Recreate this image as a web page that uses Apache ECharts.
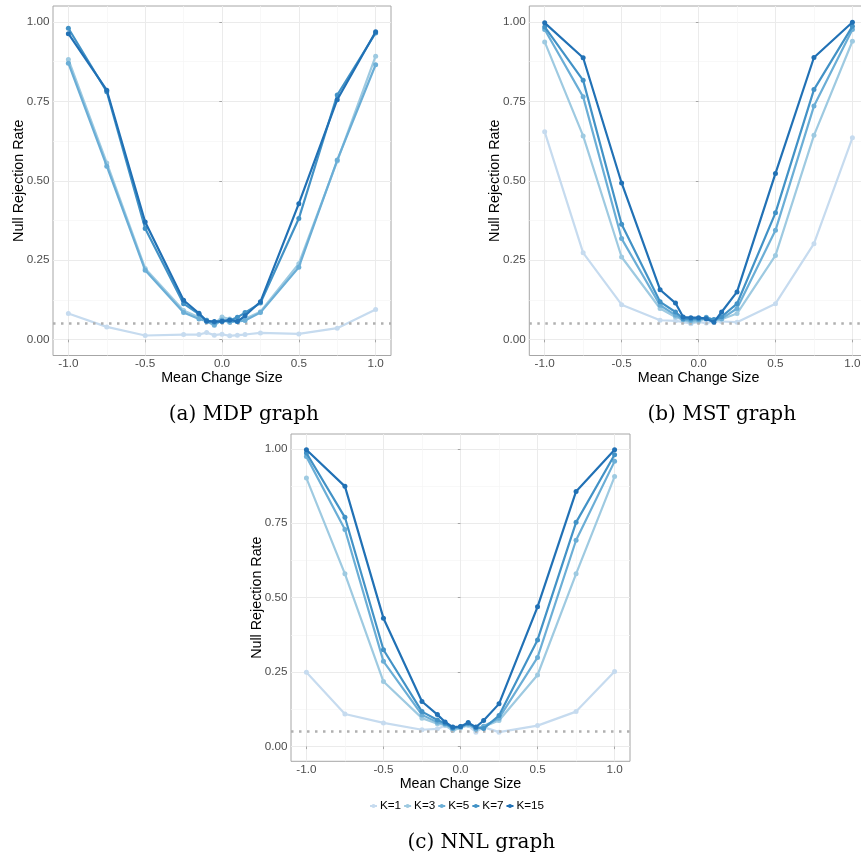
<!DOCTYPE html>
<html>
<head>
<meta charset="utf-8">
<title>Null rejection rate vs mean change size</title>
<script src="https://cdn.jsdelivr.net/npm/echarts@6/dist/echarts.min.js"></script>
<style>
  html, body { margin: 0; padding: 0; background: #ffffff; }
  #chart { width: 861px; height: 859px; }
</style>
</head>
<body>
<div id="chart"></div>
<script>
// Mean change sizes on the horizontal axis
const changeSize = [-1, -0.75, -0.5, -0.25, -0.15, -0.1, -0.05, 0, 0.05, 0.1, 0.15, 0.25, 0.5, 0.75, 1];

// Number of neighbours K for each curve
const kLabels = ['K=1', 'K=3', 'K=5', 'K=7', 'K=15'];

// Tick values
const xTicks = [-1, -0.5, 0, 0.5, 1];
const xMinorTicks = [-0.75, -0.25, 0.25, 0.75];
const yTicks = [0, 0.25, 0.5, 0.75, 1];
const yMinorTicks = [0.125, 0.375, 0.625, 0.875];

// Nominal significance level
const alphaLevel = 0.05;

// MDP graph: null rejection rates
const mdpK1  = [0.082, 0.040, 0.013, 0.016, 0.016, 0.022, 0.014, 0.017, 0.012, 0.014, 0.016, 0.021, 0.018, 0.036, 0.095];
const mdpK3  = [0.882, 0.556, 0.224, 0.092, 0.070, 0.062, 0.050, 0.071, 0.065, 0.060, 0.066, 0.088, 0.239, 0.562, 0.892];
const mdpK5  = [0.870, 0.546, 0.218, 0.085, 0.065, 0.058, 0.045, 0.062, 0.055, 0.057, 0.060, 0.085, 0.228, 0.565, 0.865];
const mdpK7  = [0.980, 0.780, 0.350, 0.113, 0.080, 0.060, 0.055, 0.057, 0.060, 0.070, 0.085, 0.115, 0.381, 0.770, 0.965];
const mdpK15 = [0.963, 0.785, 0.370, 0.124, 0.083, 0.058, 0.057, 0.058, 0.062, 0.057, 0.075, 0.119, 0.428, 0.755, 0.969];

// MST graph: null rejection rates
const mstK1  = [0.654, 0.273, 0.110, 0.061, 0.059, 0.056, 0.050, 0.056, 0.052, 0.058, 0.057, 0.055, 0.113, 0.302, 0.635];
const mstK3  = [0.937, 0.641, 0.260, 0.098, 0.071, 0.062, 0.054, 0.058, 0.066, 0.060, 0.064, 0.082, 0.265, 0.643, 0.939];
const mstK5  = [0.976, 0.764, 0.318, 0.108, 0.077, 0.063, 0.060, 0.062, 0.070, 0.062, 0.066, 0.098, 0.344, 0.735, 0.976];
const mstK7  = [0.984, 0.816, 0.363, 0.119, 0.087, 0.066, 0.065, 0.066, 0.068, 0.063, 0.072, 0.113, 0.399, 0.787, 0.986];
const mstK15 = [0.997, 0.887, 0.493, 0.157, 0.115, 0.071, 0.069, 0.069, 0.066, 0.055, 0.087, 0.150, 0.523, 0.888, 0.999];

// NNL graph: null rejection rates
const nnlK1  = [0.249, 0.109, 0.079, 0.056, 0.059, 0.070, 0.054, 0.065, 0.070, 0.048, 0.065, 0.048, 0.070, 0.117, 0.252];
const nnlK3  = [0.902, 0.580, 0.218, 0.095, 0.076, 0.072, 0.054, 0.062, 0.072, 0.062, 0.066, 0.087, 0.240, 0.580, 0.907];
const nnlK5  = [0.974, 0.729, 0.286, 0.106, 0.081, 0.075, 0.060, 0.065, 0.075, 0.058, 0.068, 0.095, 0.299, 0.693, 0.958];
const nnlK7  = [0.986, 0.770, 0.325, 0.117, 0.089, 0.078, 0.062, 0.066, 0.078, 0.064, 0.060, 0.104, 0.358, 0.753, 0.980];
const nnlK15 = [0.997, 0.874, 0.431, 0.151, 0.107, 0.082, 0.065, 0.067, 0.080, 0.065, 0.087, 0.143, 0.469, 0.857, 0.997];

// Sequential blues, light to dark with increasing K
const kColors = ['#c6dbef', '#9ecae1', '#6baed6', '#4292c6', '#2171b5'];

const sansFont = '"Liberation Sans", Arial, Helvetica, sans-serif';
const serifFont = '"DejaVu Serif", "Liberation Serif", serif';
const borderGray = '#a6a6a6';
const majorGrid = '#ebebeb';
const minorGrid = '#f5f5f5';

const panels = [
  { caption: '(a) MDP graph', rates: [mdpK1, mdpK3, mdpK5, mdpK7, mdpK15],
    box: { left: 53, top: 6, width: 338, height: 349.5 }, captionAt: [243.8, 414.5] },
  { caption: '(b) MST graph', rates: [mstK1, mstK3, mstK5, mstK7, mstK15],
    box: { left: 529.3, top: 6, width: 338.5, height: 349.5 }, captionAt: [721.7, 414.5] },
  { caption: '(c) NNL graph', rates: [nnlK1, nnlK3, nnlK5, nnlK7, nnlK15],
    box: { left: 291, top: 434, width: 339, height: 327.3 }, captionAt: [481.3, 843] }
];

const grids = [], xAxes = [], yAxes = [], series = [], graphics = [];

panels.forEach((p, g) => {
  grids.push(Object.assign({
    show: true, borderColor: borderGray, borderWidth: 1,
    backgroundColor: 'transparent', containLabel: false, outerBoundsMode: 'none'
  }, p.box));

  // Major axes: ticks, labels, titles and major grid lines
  xAxes.push({
    gridIndex: g, type: 'value', min: -1.1, max: 1.1, position: 'bottom',
    axisLine: { show: false },
    axisTick: { show: true, length: 2.7, customValues: xTicks, lineStyle: { color: borderGray, width: 1 } },
    axisLabel: { customValues: xTicks, formatter: v => v.toFixed(1), color: '#4d4d4d',
                 fontSize: 11.7, fontFamily: sansFont, margin: 2.5 },
    splitLine: { show: true, lineStyle: { color: majorGrid, width: 1 } },
    name: 'Mean Change Size', nameLocation: 'middle', nameGap: 16, nameMoveOverlap: false,
    nameTextStyle: { color: '#000', fontSize: 14.3, fontFamily: sansFont, verticalAlign: 'top' }
  });
  yAxes.push({
    gridIndex: g, type: 'value', min: -0.05, max: 1.05, position: 'left',
    axisLine: { show: false },
    axisTick: { show: true, length: 2.7, customValues: yTicks, lineStyle: { color: borderGray, width: 1 } },
    axisLabel: { customValues: yTicks, formatter: v => v.toFixed(2), color: '#4d4d4d',
                 fontSize: 11.7, fontFamily: sansFont, margin: 3.5 },
    splitLine: { show: true, lineStyle: { color: majorGrid, width: 1 } },
    name: 'Null Rejection Rate', nameLocation: 'middle', nameGap: 27, nameRotate: 90,
    nameMoveOverlap: false,
    nameTextStyle: { color: '#000', fontSize: 14.3, fontFamily: sansFont }
  });
  // Minor axes: only their grid lines are drawn
  xAxes.push({
    gridIndex: g, type: 'value', min: -1.1, max: 1.1, position: 'top',
    axisLine: { show: false }, axisLabel: { show: false },
    axisTick: { show: false, customValues: xMinorTicks },
    splitLine: { show: true, lineStyle: { color: minorGrid, width: 0.7 } }
  });
  yAxes.push({
    gridIndex: g, type: 'value', min: -0.05, max: 1.05, position: 'right',
    axisLine: { show: false }, axisLabel: { show: false },
    axisTick: { show: false, customValues: yMinorTicks },
    splitLine: { show: true, lineStyle: { color: minorGrid, width: 0.7 } }
  });

  p.rates.forEach((vals, k) => {
    const s = {
      name: kLabels[k], type: 'line',
      xAxisIndex: 2 * g, yAxisIndex: 2 * g,
      data: changeSize.map((x, i) => [x, vals[i]]),
      symbol: 'circle', symbolSize: 5, showSymbol: true,
      lineStyle: { color: kColors[k], width: 2.2 },
      itemStyle: { color: kColors[k] },
      z: 3 + k, silent: true
    };
    if (k === 0) {
      // dotted reference line at the nominal level
      s.markLine = {
        silent: true, symbol: 'none', label: { show: false },
        lineStyle: { color: '#b0b0b0', width: 2.5, type: [2.5, 5.5], cap: 'butt' },
        data: [{ yAxis: alphaLevel }]
      };
    }
    series.push(s);
  });

  graphics.push({
    type: 'text', x: p.captionAt[0], y: p.captionAt[1],
    style: { text: p.caption, fontSize: 20, fontFamily: serifFont, fill: '#000',
             textAlign: 'center', textVerticalAlign: 'middle' }
  });
});

const chart = echarts.init(document.getElementById('chart'), null, { renderer: 'canvas' });
chart.setOption({
  animation: false,
  backgroundColor: '#ffffff',
  grid: grids,
  xAxis: xAxes,
  yAxis: yAxes,
  series: series,
  legend: {
    data: kLabels, left: 364, top: 795, orient: 'horizontal',
    itemWidth: 7, itemHeight: 5, itemGap: 2,
    textStyle: { color: '#000', fontSize: 11.7, fontFamily: sansFont, padding: [0, 0, 0, -2] },
    selectedMode: false
  },
  graphic: graphics
});
</script>
</body>
</html>
